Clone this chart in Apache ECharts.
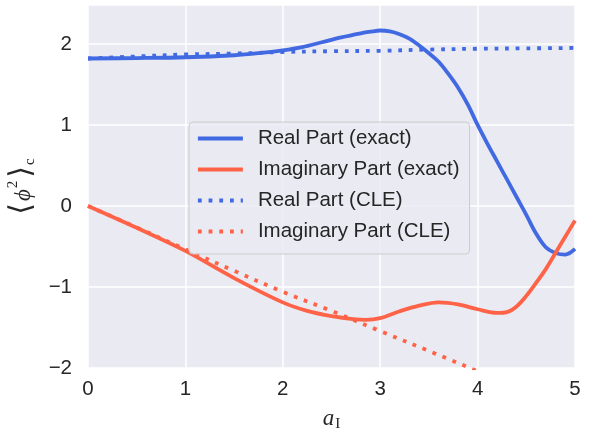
<!DOCTYPE html>
<html>
<head>
<meta charset="utf-8">
<script src="https://cdn.jsdelivr.net/npm/echarts@6/dist/echarts.min.js"></script>
<style>
  html, body { margin: 0; padding: 0; background: #ffffff; }
  #chart { width: 595px; height: 432px; }
</style>
</head>
<body>
<div id="chart"></div>
<script>
// Connected correlator <phi^2>_c versus imaginary coupling a_I

// Real part, exact
const realExactX = [0, 0.5, 1, 1.5, 1.75, 2, 2.2, 2.4, 2.6, 2.8, 2.9, 3.0, 3.1, 3.2, 3.3, 3.4, 3.5, 3.6, 3.7, 3.8, 3.9, 4.0, 4.1, 4.2, 4.3, 4.4, 4.5, 4.6, 4.7, 4.8, 4.9, 5.0];
const realExactY = [1.82, 1.825, 1.835, 1.86, 1.885, 1.92, 1.96, 2.02, 2.08, 2.13, 2.15, 2.165, 2.155, 2.12, 2.065, 1.98, 1.885, 1.78, 1.63, 1.46, 1.25, 1.0, 0.77, 0.55, 0.33, 0.11, -0.11, -0.34, -0.51, -0.58, -0.60, -0.53];

// Imaginary part, exact
const imagExactX = [0, 0.5, 1.0, 1.5, 2.0, 2.25, 2.5, 2.75, 2.85, 3.0, 3.2, 3.4, 3.6, 3.8, 4.0, 4.2, 4.3, 4.4, 4.5, 4.6, 4.7, 4.8, 4.9, 5.0];
const imagExactY = [0, -0.27, -0.555, -0.89, -1.19, -1.295, -1.36, -1.40, -1.405, -1.385, -1.30, -1.23, -1.19, -1.215, -1.275, -1.32, -1.31, -1.24, -1.11, -0.95, -0.78, -0.58, -0.38, -0.18];

// Real part, complex Langevin
const realCleX = [0, 0.5, 1, 1.5, 2, 2.5, 3, 3.5, 4, 4.5, 5];
const realCleY = [1.82, 1.845, 1.87, 1.88, 1.90, 1.91, 1.915, 1.93, 1.94, 1.945, 1.95];

// Imaginary part, complex Langevin
const imagCleX = [0, 0.5, 1.0, 1.5, 2.0, 2.5, 3.0, 3.5, 4.0];
const imagCleY = [0, -0.265, -0.535, -0.80, -1.06, -1.295, -1.545, -1.79, -2.04];

const seriesNames = ['Real Part (exact)', 'Imaginary Part (exact)', 'Real Part (CLE)', 'Imaginary Part (CLE)'];
const xTicks = [0, 1, 2, 3, 4, 5];
const yTicks = [-2, -1, 0, 1, 2];

const BLUE = '#4169E1';
const RED = '#FF6347';
const INK = '#262626';
const SANS = '"Liberation Sans", Arial, Helvetica, sans-serif';
const SERIF = '"Liberation Serif", "DejaVu Serif", serif';

const pairs = (xs, ys) => xs.map((x, i) => [x, ys[i]]);

function lineSeries(name, xs, ys, color, dotted) {
  return {
    name: name,
    type: 'line',
    data: pairs(xs, ys),
    showSymbol: false,
    symbol: 'none',
    smooth: 0.35,
    clip: true,
    lineStyle: {
      color: color,
      width: 3.8,
      type: dotted ? [3.8, 6.9] : 'solid',
      cap: 'butt',
      join: 'round'
    },
    itemStyle: { color: color },
    emphasis: { disabled: true },
    animation: false
  };
}

const chart = echarts.init(document.getElementById('chart'), null, { renderer: 'canvas' });

chart.setOption({
  backgroundColor: '#ffffff',
  animation: false,
  textStyle: { fontFamily: SANS, color: INK },
  grid: {
    left: 88, right: 20, top: 5, bottom: 64,
    containLabel: false,
    outerBoundsMode: 'none',
    show: true,
    backgroundColor: '#EAEAF2',
    borderWidth: 0
  },
  xAxis: {
    type: 'value',
    min: xTicks[0],
    max: xTicks[xTicks.length - 1],
    interval: 1,
    name: '{a|a}{i|I}',
    nameLocation: 'middle',
    nameGap: 38,
    nameTextStyle: {
      rich: {
        a: { fontFamily: SERIF, fontStyle: 'italic', fontSize: 23, color: INK, verticalAlign: 'middle', lineHeight: 26 },
        i: { fontFamily: SERIF, fontSize: 15, color: INK, verticalAlign: 'bottom', lineHeight: 26, padding: [0, 0, 0, 1] }
      }
    },
    axisLine: { show: false },
    axisTick: { show: false },
    axisLabel: {
      fontFamily: SANS, fontSize: 20.5, color: INK, margin: 11,
      formatter: v => xTicks.includes(v) ? String(v) : ''
    },
    splitLine: { show: true, lineStyle: { color: '#ffffff', width: 1.5 } }
  },
  yAxis: {
    type: 'value',
    min: yTicks[0],
    max: 2.48,
    interval: 1,
    name: '{br|⟨}{p|ϕ}{s|2}{br|⟩}{c|c}',
    nameLocation: 'middle',
    nameRotate: 90,
    nameGap: 41,
    nameTextStyle: {
      rich: {
        br: { fontFamily: '"DejaVu Sans", sans-serif', fontSize: 30, color: INK, verticalAlign: 'middle', lineHeight: 32 },
        p: { fontFamily: SERIF, fontStyle: 'italic', fontSize: 23, color: INK, verticalAlign: 'middle', lineHeight: 32, padding: [5, 1, 0, 2] },
        s: { fontFamily: SERIF, fontSize: 15, color: INK, verticalAlign: 'top', lineHeight: 32, padding: [0, 3, 0, 0] },
        c: { fontFamily: SERIF, fontSize: 15, color: INK, verticalAlign: 'bottom', lineHeight: 32, padding: [0, 0, 0, 1] }
      }
    },
    axisLine: { show: false },
    axisTick: { show: false },
    axisLabel: {
      fontFamily: SANS, fontSize: 20.5, color: INK, margin: 16,
      showMaxLabel: false,
      formatter: v => yTicks.includes(v) ? String(v).replace('-', '\u2212') : ''
    },
    splitLine: { show: true, lineStyle: { color: '#ffffff', width: 1.5 } }
  },
  legend: {
    data: seriesNames,
    orient: 'vertical',
    left: 189,
    top: 122,
    padding: [6, 10, 12, 7],
    itemGap: 10,
    itemWidth: 45,
    itemHeight: 14,
    backgroundColor: 'rgba(234,234,242,0.8)',
    borderColor: '#cccccc',
    borderWidth: 1,
    borderRadius: 4,
    itemStyle: { opacity: 0 },
    lineStyle: { width: 3.8 },
    selectedMode: false,
    textStyle: {
      fontFamily: SANS, fontSize: 20.5, color: INK, lineHeight: 20,
      padding: [0, 0, 0, 10]
    }
  },
  series: [
    lineSeries(seriesNames[0], realExactX, realExactY, BLUE, false),
    lineSeries(seriesNames[1], imagExactX, imagExactY, RED, false),
    lineSeries(seriesNames[2], realCleX, realCleY, BLUE, true),
    lineSeries(seriesNames[3], imagCleX, imagCleY, RED, true)
  ]
});
</script>
</body>
</html>
